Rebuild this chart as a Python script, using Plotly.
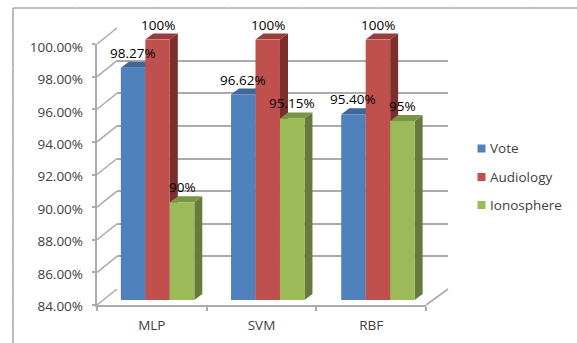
import plotly.graph_objects as go

# Accuracy per classifier and data set
categories = ["MLP", "SVM", "RBF"]
series_names = ["Vote", "Audiology", "Ionosphere"]
vote = [98.27, 96.62, 95.40]
audiology = [100, 100, 100]
ionosphere = [90, 95.15, 95]
vote_labels = ["98.27%", "96.62%", "95.40%"]
audiology_labels = ["100%", "100%", "100%"]
ionosphere_labels = ["90%", "95.15%", "95%"]
y_ticks = [84, 86, 88, 90, 92, 94, 96, 98, 100]
y_tick_labels = ["84.00%", "86.00%", "88.00%", "90.00%", "92.00%", "94.00%", "96.00%", "98.00%", "100.00%"]

W, H = 577, 343
FONT = "Open Sans"
TEXT = "#404040"
LINE = "#ababab"
FACE = ["#4F81BD", "#C0504D", "#9BBB59"]
SIDE = ["#375A85", "#7A2F2D", "#667A3C"]
TOP = ["#3F6797", "#9A3D3A", "#7B9546"]
Y_MIN, Y_MAX = 84, 100
Y_HEADROOM = 1        # percentage points of room above the bars for their top faces
BAR_W = 1 / 4.5
DEPTH_X = 0.0725      # bar depth in category units
DEPTH_Y = 0.37        # bar depth in percentage points


def xdom(a, b):
    return [a / W, b / W]


def ydom(top, bottom):
    return [1 - bottom / H, 1 - top / H]


def px(x):
    return x / W


def py(y):
    return 1 - y / H


fig = go.Figure()

# Invisible carriers so the back wall, front axes and label axis exist
fig.add_trace(go.Scatter(x=categories, y=vote, mode="none", xaxis="x", yaxis="y",
                         showlegend=False, hoverinfo="skip"))
fig.add_trace(go.Scatter(x=categories, y=vote, mode="none", xaxis="x2", yaxis="y2",
                         showlegend=False, hoverinfo="skip"))
fig.add_trace(go.Scatter(x=categories, y=vote, mode="none", xaxis="x2", yaxis="y5",
                         showlegend=False, hoverinfo="skip"))

all_values = [vote, audiology, ionosphere]
all_labels = [vote_labels, audiology_labels, ionosphere_labels]

# Side and top faces, lying under the bar fronts
for s, values in enumerate(all_values):
    sx, sy, tx, ty = [], [], [], []
    for i, v in enumerate(values):
        left = i - 1.5 * BAR_W + s * BAR_W
        right = left + BAR_W
        sx += [right, right + DEPTH_X, right + DEPTH_X, right, right, None]
        sy += [Y_MIN, Y_MIN + DEPTH_Y, v + DEPTH_Y, v, Y_MIN, None]
        tx += [left, left + DEPTH_X, right + DEPTH_X, right, left, None]
        ty += [v, v + DEPTH_Y, v + DEPTH_Y, v, v, None]
    fig.add_trace(go.Scatter(x=sx, y=sy, mode="lines", fill="toself", fillcolor=SIDE[s],
                             line=dict(width=0, color=SIDE[s]), xaxis="x3", yaxis="y3",
                             showlegend=False, hoverinfo="skip"))
    fig.add_trace(go.Scatter(x=tx, y=ty, mode="lines", fill="toself", fillcolor=TOP[s],
                             line=dict(width=0, color=TOP[s]), xaxis="x3", yaxis="y3",
                             showlegend=False, hoverinfo="skip"))

# Bar fronts
for s, values in enumerate(all_values):
    fig.add_trace(go.Bar(x=list(range(len(categories))), y=[v - Y_MIN for v in values], base=Y_MIN,
                         name=series_names[s], marker=dict(color=FACE[s], line=dict(width=0)),
                         xaxis="x4", yaxis="y4", cliponaxis=False, showlegend=False))

annotations = []
for s, (values, labels) in enumerate(zip(all_values, all_labels)):
    for i, (v, lab) in enumerate(zip(values, labels)):
        annotations.append(dict(x=i - BAR_W + s * BAR_W, y=v, xref="x4", yref="y4", text=lab,
                                showarrow=False, yshift=15, xanchor="center", yanchor="middle",
                                font=dict(family=FONT, size=13.5, color="#000000")))

shapes = []


def seg(x0, y0, x1, y1, color=LINE, width=1.6):
    shapes.append(dict(type="line", xref="paper", yref="paper", layer="below",
                       x0=px(x0), y0=py(y0), x1=px(x1), y1=py(y1),
                       line=dict(color=color, width=width)))


# Outer frame: top and left edges only
seg(13, 8, W, 8)
seg(13, 8, 13, H)
for x in [76, 152, 228, 302, 378, 453, 528]:
    seg(x, 5.5, x, 8, "#dedede", 1)
for y in [34, 68, 103, 137, 171, 195, 218, 242, 266, 289, 312, 336]:
    seg(10.5, y, 13, y, "#dedede", 1)

# Side wall and floor edges joining the front axes to the back wall
FRONT_X0, FRONT_X1 = 97, 426
BACK_X0, BACK_X1 = 117, 448
FRONT_TOP, FRONT_BOTTOM = 44, 305
BACK_TOP, BACK_BOTTOM = 28, 289
step = (FRONT_BOTTOM - FRONT_TOP) / (len(y_ticks) - 1)
for k in range(len(y_ticks)):
    seg(FRONT_X0, FRONT_TOP + k * step, BACK_X0, BACK_TOP + k * step)
seg(FRONT_X1, FRONT_BOTTOM, BACK_X1, BACK_BOTTOM)

# Legend
LEGEND_Y = [148.5, 177, 205]
for name, color, y in zip(series_names, FACE, LEGEND_Y):
    shapes.append(dict(type="rect", xref="paper", yref="paper", layer="above",
                       x0=px(477.5), x1=px(485.5), y0=py(y - 4), y1=py(y + 4),
                       fillcolor=color, line=dict(width=0)))
    annotations.append(dict(x=px(488), y=py(y), xref="paper", yref="paper", text=name,
                            showarrow=False, xanchor="left", yanchor="middle",
                            font=dict(family=FONT, size=13.5, color=TEXT)))

# Bar plane: the faces axis reaches higher than the fronts, at the same scale
PLANE_TOP, PLANE_BOTTOM = 39.5, 300
px_per_point = (PLANE_BOTTOM - PLANE_TOP) / (Y_MAX - Y_MIN)
BAR_PLANE_X = xdom(102.5, 433)
BAR_PLANE_Y = ydom(PLANE_TOP, PLANE_BOTTOM)
FACE_PLANE_Y = ydom(PLANE_TOP - Y_HEADROOM * px_per_point, PLANE_BOTTOM)
cat_range = [-0.5, len(categories) - 0.5]
hidden = dict(visible=False, fixedrange=True, automargin=False)

fig.update_layout(
    template="none",
    width=W, height=H,
    margin=dict(l=0, r=0, t=0, b=0),
    paper_bgcolor="white",
    plot_bgcolor="rgba(0,0,0,0)",
    showlegend=False,
    barmode="group",
    bargap=1 / 3,
    bargroupgap=0,
    shapes=shapes,
    annotations=annotations,
    # back wall with its gridlines
    xaxis=dict(domain=xdom(BACK_X0, BACK_X1), anchor="y", range=cat_range, showgrid=False,
               showline=False, ticks="", showticklabels=False, zeroline=False, automargin=False),
    yaxis=dict(domain=ydom(BACK_TOP, BACK_BOTTOM), anchor="x", range=[Y_MIN, Y_MAX],
               tickvals=y_ticks, showgrid=True, gridcolor=LINE, gridwidth=1.6,
               showticklabels=False, ticks="", showline=False, zeroline=False, automargin=False),
    # front axes with their lines and ticks
    xaxis2=dict(domain=xdom(FRONT_X0, FRONT_X1), anchor="y2", type="category",
                categoryorder="array", categoryarray=categories, tickson="boundaries",
                range=cat_range, automargin=False,
                ticks="outside", ticklen=4, tickwidth=1.6, tickcolor=LINE,
                showline=True, linecolor=LINE, linewidth=1.6, showgrid=False, zeroline=False,
                ticklabelstandoff=7, tickfont=dict(family=FONT, size=13.5, color=TEXT)),
    yaxis2=dict(domain=ydom(FRONT_TOP, FRONT_BOTTOM), anchor="x2", range=[Y_MIN, Y_MAX],
                tickvals=y_ticks, showticklabels=False, ticks="outside", ticklen=3,
                tickwidth=1.6, tickcolor=LINE, showline=True, linecolor=LINE, linewidth=1.6,
                showgrid=False, zeroline=False, automargin=False),
    # value labels sit on their own axis, a touch below the tick marks
    yaxis5=dict(domain=ydom(FRONT_TOP + 3, FRONT_BOTTOM + 1.5), anchor="free", position=px(FRONT_X0),
                range=[Y_MIN, Y_MAX], tickvals=y_ticks, ticktext=y_tick_labels, ticks="",
                showline=False, showgrid=False, zeroline=False, ticklabelstandoff=14,
                automargin=False, tickfont=dict(family=FONT, size=13.5, color=TEXT)),
    # depth faces and bar fronts share the same plane
    xaxis3=dict(domain=BAR_PLANE_X, anchor="y3", range=cat_range, **hidden),
    yaxis3=dict(domain=FACE_PLANE_Y, anchor="x3", range=[Y_MIN, Y_MAX + Y_HEADROOM], **hidden),
    xaxis4=dict(domain=BAR_PLANE_X, anchor="y4", range=cat_range, **hidden),
    yaxis4=dict(domain=BAR_PLANE_Y, anchor="x4", range=[Y_MIN, Y_MAX], **hidden),
)

fig.write_html("out.html", config=dict(displayModeBar=False))
